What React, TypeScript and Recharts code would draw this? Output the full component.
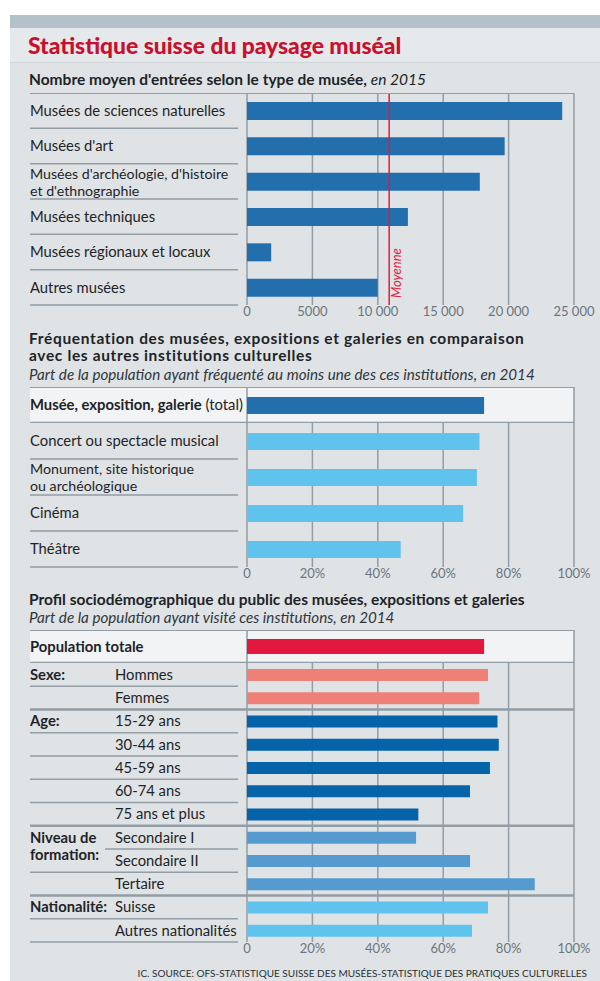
import React from "react";
import { Bar, BarChart, CartesianGrid, Cell, ReferenceLine, XAxis, YAxis } from "recharts";

// --- data ---
const museumTypes = [
  "Musées de sciences naturelles",
  "Musées d'art",
  "Musées d'archéologie, d'histoire\net d'ethnographie",
  "Musées techniques",
  "Musées régionaux et locaux",
  "Autres musées",
];
const museumEntries = [24100, 19700, 17800, 12300, 1850, 10000];
const museumAverage = 10870;
const entriesTicks = [0, 5000, 10000, 15000, 20000, 25000];

const cultureTotalLabel = "Musée, exposition, galerie";
const cultureTotalValue = 72.5;
const cultureOthers = [
  "Concert ou spectacle musical",
  "Monument, site historique\nou archéologique",
  "Cinéma",
  "Théâtre",
];
const cultureOtherValues = [71.1, 70.3, 66.1, 47.0];

const profileTotalLabel = "Population totale";
const profileTotalValue = 72.5;
const profileGroups = ["Sexe:", "", "Age:", "", "", "", "", "Niveau de\nformation:", "", "", "Nationalité:", ""];
const profileRows = [
  "Hommes",
  "Femmes",
  "15-29 ans",
  "30-44 ans",
  "45-59 ans",
  "60-74 ans",
  "75 ans et plus",
  "Secondaire I",
  "Secondaire II",
  "Tertaire",
  "Suisse",
  "Autres nationalités",
];
const profileValues = [73.7, 71.0, 76.6, 77.0, 74.3, 68.2, 52.4, 51.7, 68.2, 88.0, 73.7, 68.8];
const profileColors = [
  "#ef8078", "#ef8078",
  "#0563aa", "#0563aa", "#0563aa", "#0563aa", "#0563aa",
  "#569bd0", "#569bd0", "#569bd0",
  "#5fc3ee", "#5fc3ee",
];
const pctTicks = [0, 20, 40, 60, 80, 100];

// --- layout ---
const FONT = "Lato, 'Open Sans', sans-serif";
const LEFT = 30;
const AXIS_W = 217;
const PLOT_W = 327;
const CHART_W = 570;
const LABEL_LINE_W = 208;
const LABEL_SIZE = 14.8;
const GRID = "#929da5";
const TEXT = "#1e2327";
const TICK = { fill: "#6b757d", fontSize: 13, fontFamily: FONT };

const fmtEntries = (v: number) => (v >= 10000 ? `${Math.floor(v / 1000)}\u202f000` : `${v}`);
const fmtPct = (v: number) => (v === 0 ? "0" : `${v}%`);

function labelLines(text: string, x: number, y: number) {
  const lines = text.split("\n");
  if (lines.length === 1) {
    return (
      <text x={x} y={y} dy="0.35em" fontSize={LABEL_SIZE} fill={TEXT} fontFamily={FONT}>
        {text}
      </text>
    );
  }
  const lh = 17;
  const start = y + 1 - ((lines.length - 1) * lh) / 2;
  return lines.map((l, i) => (
    <text key={i} x={x} y={start + i * lh} dy="0.35em" fontSize={14.2} fill={TEXT} fontFamily={FONT}>
      {l}
    </text>
  ));
}

function simpleTick(rowH: number, topLine: boolean) {
  return (props: any) => {
    const { y, payload, index } = props;
    return (
      <g>
        {topLine && index === 0 && (
          <line x1={0} x2={AXIS_W + PLOT_W} y1={y - rowH / 2} y2={y - rowH / 2} stroke={GRID} strokeWidth={2} />
        )}
        {labelLines(payload.value, 0, y)}
        <line x1={0} x2={LABEL_LINE_W} y1={y + rowH / 2} y2={y + rowH / 2} stroke={GRID} strokeWidth={1.5} />
      </g>
    );
  };
}

function totalTick(rowH: number, bold: string, rest: string) {
  return (props: any) => {
    const { y } = props;
    return (
      <g>
        <line x1={0} x2={AXIS_W + PLOT_W} y1={y - rowH / 2} y2={y - rowH / 2} stroke={GRID} strokeWidth={2} />
        <text x={0} y={y} dy="0.35em" fontSize={LABEL_SIZE} fill={TEXT} fontFamily={FONT}>
          <tspan fontWeight="bold">{bold}</tspan>
          {rest && <tspan>{rest}</tspan>}
        </text>
        <line x1={0} x2={AXIS_W + PLOT_W} y1={y + rowH / 2} y2={y + rowH / 2} stroke={GRID} strokeWidth={2.5} />
      </g>
    );
  };
}

function profileTick(rowH: number) {
  return (props: any) => {
    const { y, payload } = props;
    const i = profileRows.indexOf(payload.value);
    const group = profileGroups[i];
    const last = i === profileRows.length - 1;
    const nextSame = !last && profileGroups[i + 1] === "";
    return (
      <g>
        {i > 0 && group !== "" && (
          <line x1={0} x2={AXIS_W + PLOT_W} y1={y - rowH / 2} y2={y - rowH / 2} stroke={GRID} strokeWidth={2.5} />
        )}
        {group !== "" &&
          group.split("\n").map((l, k) => (
            <text key={k} x={0} y={y + k * 17} dy="0.35em" fontSize={LABEL_SIZE} fill={TEXT} fontFamily={FONT} fontWeight="bold">
              {l}
            </text>
          ))}
        <text x={85} y={y} dy="0.35em" fontSize={LABEL_SIZE} fill={TEXT} fontFamily={FONT}>
          {payload.value}
        </text>
        {(nextSame || last) && (
          <line
            x1={group.includes("\n") ? 75 : 0}
            x2={LABEL_LINE_W}
            y1={y + rowH / 2}
            y2={y + rowH / 2}
            stroke={GRID}
            strokeWidth={1.5}
          />
        )}
      </g>
    );
  };
}

function MoyenneLabel(props: any) {
  const { viewBox } = props;
  const x = viewBox.x + 12;
  const y = viewBox.y + viewBox.height - 7;
  return (
    <text x={x} y={y} transform={`rotate(-90 ${x} ${y})`} fontSize={13} fontStyle="italic" fill="#e2183f" fontFamily={FONT}>
      Moyenne
    </text>
  );
}

type RowChartProps = {
  top: number;
  plotH: number;
  names: string[];
  values: number[];
  colors: string[];
  barSize: number;
  domain: [number, number];
  ticks: number[];
  fmt: (v: number) => string;
  showAxis: boolean;
  tick: any;
  children?: React.ReactNode;
};

function RowChart({ top, plotH, names, values, colors, barSize, domain, ticks, fmt, showAxis, tick, children }: RowChartProps) {
  const data = names.map((name, i) => ({ name, value: values[i] }));
  const axisH = showAxis ? 18 : 0;
  return (
    <div style={{ position: "absolute", left: LEFT, top: top }}>
      <BarChart
        width={CHART_W}
        height={plotH + axisH}
        data={data}
        layout="vertical"
        margin={{ top: 0, right: CHART_W - AXIS_W - PLOT_W, bottom: 0, left: 0 }}
      >
        <CartesianGrid horizontal={false} stroke={GRID} strokeWidth={1.5} />
        <XAxis
          type="number"
          domain={domain}
          ticks={ticks}
          tickFormatter={fmt}
          axisLine={false}
          tickLine={false}
          tickSize={0}
          tickMargin={2}
          height={axisH}
          tick={showAxis ? TICK : false}
          interval={0}
        />
        <YAxis type="category" dataKey="name" width={AXIS_W} axisLine={false} tickLine={false} tick={tick} interval={0} />
        <Bar dataKey="value" barSize={barSize} isAnimationActive={false}>
          {data.map((d, i) => (
            <Cell key={d.name} fill={colors[i]} />
          ))}
        </Bar>
        {children}
      </BarChart>
    </div>
  );
}

const heading: React.CSSProperties = {
  position: "absolute",
  left: 29,
  fontFamily: FONT,
  fontSize: 15.5,
  fontWeight: "bold",
  color: TEXT,
  lineHeight: "17px",
  whiteSpace: "nowrap",
};
const italic: React.CSSProperties = {
  position: "absolute",
  left: 29,
  fontFamily: FONT,
  fontSize: 15.2,
  fontStyle: "italic",
  color: "#30363a",
  lineHeight: "17px",
  whiteSpace: "nowrap",
};

export default function App() {
  return (
    <div style={{ position: "absolute", left: 0, top: 0, width: 600, height: 981, background: "#fff", overflow: "hidden" }}>
      <div style={{ position: "absolute", left: 10, top: 15, width: 590, height: 966, background: "#dfe3e6" }} />
      <div style={{ position: "absolute", left: 10, top: 15, width: 590, height: 13, background: "#b3c1c9" }} />
      <div style={{ position: "absolute", left: 10, top: 28, width: 590, height: 34, background: "#e6e9eb", borderBottom: "1px solid #cfd5d9" }} />
      <div
        style={{
          position: "absolute",
          left: 28,
          top: 31,
          fontFamily: FONT,
          fontSize: 22.8,
          fontWeight: 900,
          color: "#c8102e",
          lineHeight: "28px",
          whiteSpace: "nowrap",
        }}
      >
        Statistique suisse du paysage muséal
      </div>

      <div style={{ ...heading, top: 71 }}>
        Nombre moyen d'entrées selon le type de musée, <span style={{ fontWeight: "normal", fontStyle: "italic" }}>en 2015</span>
      </div>
      <RowChart
        top={93}
        plotH={212}
        names={museumTypes}
        values={museumEntries}
        colors={museumTypes.map(() => "#236fae")}
        barSize={18}
        domain={[0, 25000]}
        ticks={entriesTicks}
        fmt={fmtEntries}
        showAxis
        tick={simpleTick(212 / museumTypes.length, true)}
      >
        <ReferenceLine x={museumAverage} stroke="#e2183f" strokeWidth={1.5} label={(p: any) => <MoyenneLabel {...p} />} />
      </RowChart>

      <div style={{ ...heading, top: 330, letterSpacing: 0.65 }}>
        Fréquentation des musées, expositions et galeries en comparaison
        <br />
        avec les autres institutions culturelles
      </div>
      <div style={{ ...italic, top: 366 }}>Part de la population ayant fréquenté au moins une des ces institutions, en 2014</div>
      <div style={{ position: "absolute", left: LEFT, top: 387, width: AXIS_W + PLOT_W, height: 36, background: "#f2f3f5" }} />
      <RowChart
        top={387}
        plotH={36}
        names={[cultureTotalLabel]}
        values={[cultureTotalValue]}
        colors={["#236fae"]}
        barSize={17}
        domain={[0, 100]}
        ticks={pctTicks}
        fmt={fmtPct}
        showAxis={false}
        tick={totalTick(36, cultureTotalLabel, " (total)")}
      />
      <RowChart
        top={423}
        plotH={144}
        names={cultureOthers}
        values={cultureOtherValues}
        colors={cultureOthers.map(() => "#5fc3ee")}
        barSize={17}
        domain={[0, 100]}
        ticks={pctTicks}
        fmt={fmtPct}
        showAxis
        tick={simpleTick(144 / cultureOthers.length, false)}
      />

      <div style={{ ...heading, top: 591 }}>Profil sociodémographique du public des musées, expositions et galeries</div>
      <div style={{ ...italic, top: 609 }}>Part de la population ayant visité ces institutions, en 2014</div>
      <div style={{ position: "absolute", left: LEFT, top: 630, width: AXIS_W + PLOT_W, height: 33, background: "#f2f3f5" }} />
      <RowChart
        top={630}
        plotH={33}
        names={[profileTotalLabel]}
        values={[profileTotalValue]}
        colors={["#e2183f"]}
        barSize={15}
        domain={[0, 100]}
        ticks={pctTicks}
        fmt={fmtPct}
        showAxis={false}
        tick={totalTick(33, profileTotalLabel, "")}
      />
      <RowChart
        top={663}
        plotH={279}
        names={profileRows}
        values={profileValues}
        colors={profileColors}
        barSize={12}
        domain={[0, 100]}
        ticks={pctTicks}
        fmt={fmtPct}
        showAxis
        tick={profileTick(279 / profileRows.length)}
      />

      <div
        style={{
          position: "absolute",
          right: 13,
          top: 966,
          fontFamily: FONT,
          fontSize: 10,
          color: "#2a2f33",
          lineHeight: "14px",
          whiteSpace: "nowrap",
        }}
      >
        IC. SOURCE: OFS-STATISTIQUE SUISSE DES MUSÉES-STATISTIQUE DES PRATIQUES CULTURELLES
      </div>
    </div>
  );
}
